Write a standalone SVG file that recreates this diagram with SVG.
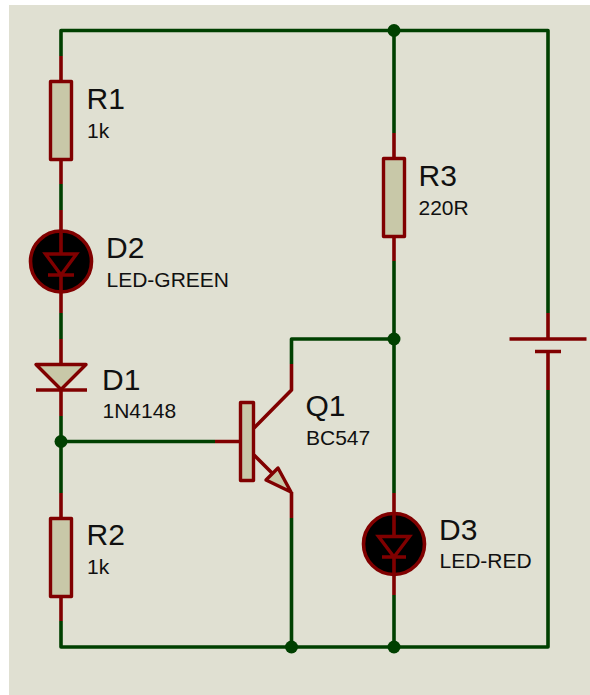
<svg xmlns="http://www.w3.org/2000/svg" width="590" height="695" viewBox="0 0 590 695">
<style>
.w{fill:none;stroke:#004000;stroke-width:3.6;stroke-linejoin:round;stroke-linecap:butt}
.p{fill:none;stroke:#800000;stroke-width:3.6;stroke-linecap:butt;stroke-linejoin:round}
.b{fill:#c8c8a8;stroke:#800000;stroke-width:3.4;stroke-linejoin:round}
.l{fill:#000;stroke:#800000;stroke-width:3.6}
.t{fill:none;stroke:#800000;stroke-width:3.4;stroke-linejoin:miter}
.j{fill:#004000;stroke:none}
text{font-family:"Liberation Sans",Arial,sans-serif;fill:#101010}
.n{font-size:30px}.v{font-size:21px}
</style>
<rect x="9" y="5" width="581" height="690" fill="#e0e0d2"/>
<g id="connectors">
<path class="w" d="M61 56V30.500H548V313"/>
<path class="w" d="M61 184V210"/>
<path class="w" d="M61 313V339"/>
<path class="w" d="M61 416V493"/>
<path class="w" d="M61 621V647H548V390"/>
<path class="w" d="M61 441.500H215"/>
<path class="w" d="M394 30.500V133"/>
<path class="w" d="M394 261V493"/>
<path class="w" d="M394 595V647"/>
<path class="w" d="M291.500 364V339H394"/>
<path class="w" d="M291.500 518V647"/>
<circle class="j" cx="394" cy="30.500" r="6.500"/>
<circle class="j" cx="61" cy="441.500" r="6.500"/>
<circle class="j" cx="394" cy="339" r="6.500"/>
<circle class="j" cx="291.500" cy="647" r="6.500"/>
<circle class="j" cx="394" cy="647" r="6.500"/>
</g>
<g id="R1">
<path class="p" d="M61 56V81M61 160V184"/>
<rect class="b" x="50.500" y="81.500" width="21" height="78"/>
<text class="n" x="86.500" y="108.500">R1</text><text class="v" x="87" y="138">1k</text>
</g>
<g id="D2">
<circle class="l" cx="61" cy="261.500" r="30.500"/>
<path class="p" d="M61 210V254M61 275V313"/>
<path class="t" d="M45.500 254H76.500L61 275ZM48 275H74"/>
<text class="n" x="106" y="258">D2</text><text class="v" x="106.500" y="287">LED-GREEN</text>
</g>
<g id="D1">
<path class="p" d="M61 339V364M61 390V416"/>
<path class="b" d="M36 364.500H86L61 389.500Z"/>
<path class="p" d="M36 390H87"/>
<text class="n" x="102" y="390">D1</text><text class="v" x="102.500" y="418">1N4148</text>
</g>
<g id="R2">
<path class="p" d="M61 493V518M61 597V621"/>
<rect class="b" x="50.500" y="518.500" width="21" height="78"/>
<text class="n" x="86.500" y="544.500">R2</text><text class="v" x="87" y="574">1k</text>
</g>
<g id="R3">
<path class="p" d="M394 133V158M394 237V261"/>
<rect class="b" x="383.500" y="158.500" width="21" height="78"/>
<text class="n" x="418.500" y="185.500">R3</text><text class="v" x="418.500" y="215">220R</text>
</g>
<g id="D3">
<circle class="l" cx="394" cy="544" r="30.500"/>
<path class="p" d="M394 493V536M394 557V595"/>
<path class="t" d="M378.500 536.500H409.500L394 557ZM382 557H406"/>
<text class="n" x="439" y="540">D3</text><text class="v" x="439.500" y="568">LED-RED</text>
</g>
<g id="Q1">
<path class="p" d="M291.500 364V390L254 428M215 441.500H240M254 455L275 476M291.500 492V518"/>
<rect class="b" x="240.500" y="402.500" width="13" height="78"/>
<path class="b" d="M278 468L266 480L291 492Z"/>
<text class="n" x="305.500" y="416">Q1</text><text class="v" x="306" y="445">BC547</text>
</g>
<g id="BAT1">
<path class="p" d="M548 313V339M509.500 339H586.500M535 351.500H561M548 351.500V390"/>
</g>
</svg>
